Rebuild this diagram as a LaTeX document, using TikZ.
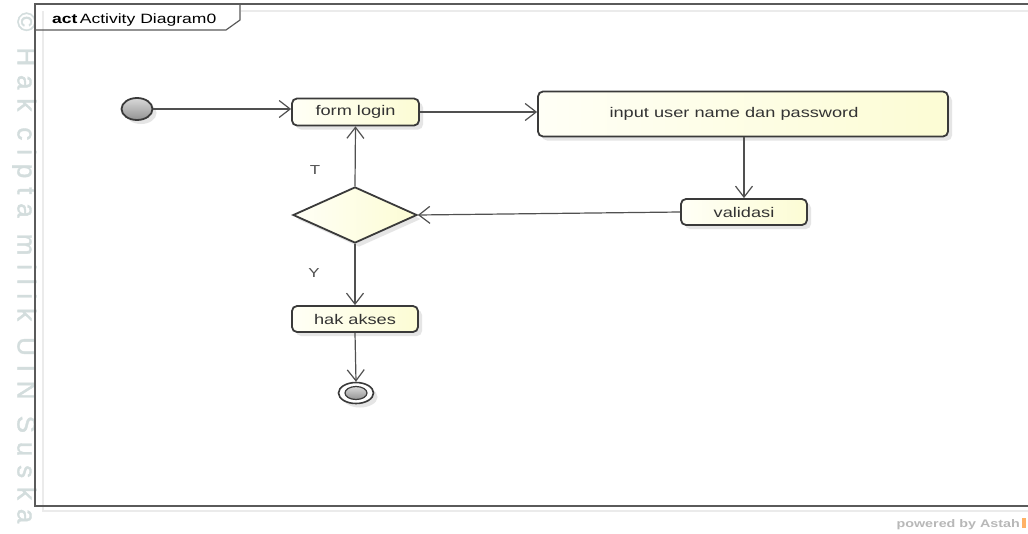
\documentclass[tikz,border=0pt]{standalone}
\usepackage{fontspec}
\setmainfont[FakeStretch=1.3]{Liberation Sans}
\newfontfamily\wmfont[LetterSpace=34,FakeBold=1.5]{Liberation Sans}
\usetikzlibrary{shapes.geometric,arrows.meta,shadows}
\definecolor{linec}{HTML}{505050}
\definecolor{boxc}{HTML}{3A3A3A}
\definecolor{txtc}{HTML}{333333}
\definecolor{fillA}{HTML}{FFFFF6}
\definecolor{fillB}{HTML}{FCFCD4}
\definecolor{wmc}{HTML}{D3DDDD}
\definecolor{framec}{HTML}{5A5A5A}
\tikzset{
  x=1pt, y=-1pt,
  txt/.style={font=\fontsize{14}{16}\selectfont, text=txtc},
  actbox/.style={txt, draw=boxc, line width=1.8pt, rounded corners=5pt,
    left color=fillA, right color=fillB, inner sep=0pt,
    drop shadow={shadow xshift=4pt, shadow yshift=-4pt, fill=black!10, opacity=1}},
  decis/.style={diamond, draw=boxc, line width=1.8pt, inner sep=0pt,
    left color=fillA, right color=fillB,
    drop shadow={shadow xshift=4pt, shadow yshift=-4pt, fill=black!10, opacity=1}},
  flow/.style={draw=linec, line width=1.2pt,
    -{Straight Barb[length=11pt,width=17pt,line width=1.2pt]}},
  lbl/.style={font=\fontsize{13}{15}\selectfont, text=linec}
}
\begin{document}
\begin{tikzpicture}
\useasboundingbox (0,0) rectangle (1028,533);
\fill[white] (0,0) rectangle (1028,533);
% watermark text
\node[anchor=north west, inner sep=0pt, text=wmc,
  font=\wmfont\fontsize{26}{26}\selectfont] (wm) at (12,12) {\rotatebox{-90}{© Hak cipta milik UIN Suska}};
% frame
\draw[black!8, line width=1.5pt] (43,11) -- (43,511) -- (1028,511);
\draw[black!8, line width=1.5pt] (241,11) -- (1028,11);
\draw[framec, line width=1.2pt] (1028,4) -- (35,4) -- (35,506) -- (1028,506);
\draw[framec, line width=1.2pt] (35,30) -- (226,30) -- (240,20) -- (240,4);
\node[anchor=base west, inner sep=0pt, font=\fontsize{13.5}{15}\selectfont, text=black] (title) at (52,23) {\textbf{act}\,Activity Diagram0};
% nodes
\node[ellipse, draw=boxc, line width=1.8pt, minimum width=31pt, minimum height=22pt, inner sep=0pt,
  top color=gray!30, bottom color=gray!85,
  drop shadow={shadow xshift=4pt, shadow yshift=-4pt, fill=black!10, opacity=1}] (init) at (137,109) {};
\node[actbox, minimum width=127pt, minimum height=27pt] (formlogin) at (355.5,112) {form login};
\node[actbox, minimum width=410pt, minimum height=45pt] (input) at (743,114) {input user name dan password\hspace*{18pt}};
\node[actbox, minimum width=126pt, minimum height=26pt] (validasi) at (744,212) {validasi};
\node[decis, minimum width=124pt, minimum height=56pt] (dec) at (355,215) {};
\node[actbox, minimum width=126pt, minimum height=26pt] (hak) at (355,319) {hak akses};
\node[ellipse, draw=boxc, line width=1.6pt, fill=white, minimum width=35pt, minimum height=21pt, inner sep=0pt,
  drop shadow={shadow xshift=4pt, shadow yshift=-4pt, fill=black!10, opacity=1}] (final) at (356,393) {};
\node[ellipse, draw=boxc, line width=1.2pt, minimum width=22pt, minimum height=13pt, inner sep=0pt,
  top color=gray!30, bottom color=gray!85] (finalin) at (final.center) {};
% labels
\node[lbl] (lt) at (315,170) {T};
\node[lbl] (ly) at (314,273) {Y};
% connectors
\draw[flow] (init.east) -- (init.east -| formlogin.west);
\draw[flow] (formlogin.east) -- (formlogin.east -| input.west);
\draw[flow] (input.south -| validasi.north) -- (validasi.north);
\draw[flow] (validasi.west) -- (dec.east);
\draw[flow] (dec.north) -- (formlogin.south);
\draw[flow] (dec.south) -- (hak.north);
\draw[flow] (hak.south) -- (final.north);
% footer
\node[anchor=base east, inner sep=0pt, text=black!28, font=\bfseries\fontsize{11}{12}\selectfont] (pow) at (1020,527) {powered by Astah};
\fill[orange!60] (1022,518) rectangle (1026,528);
\end{tikzpicture}
\end{document}
